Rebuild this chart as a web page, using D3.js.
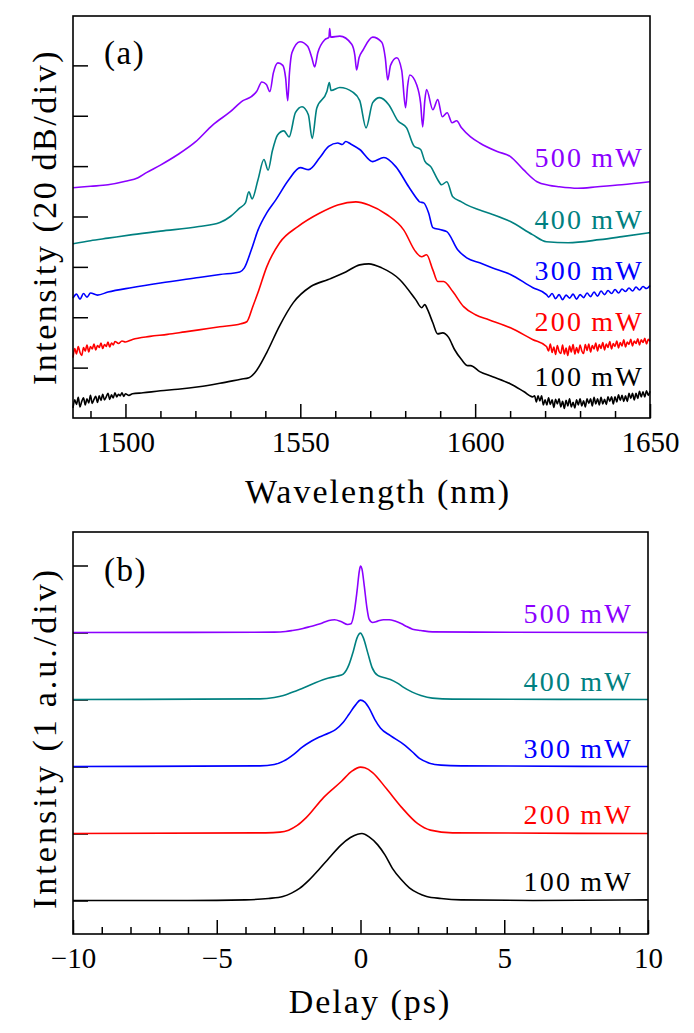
<!DOCTYPE html>
<html><head><meta charset="utf-8">
<script src="https://cdn.jsdelivr.net/npm/d3@7"></script>
<style>
html,body{margin:0;padding:0;background:#fff;}
</style></head>
<body><svg id="c" width="694" height="1033"></svg>
<script>
// ---------- Data: panel (a) spectra, [wavelength nm, level in 20 dB divisions] ----------
const specLabels = ["100 mW","200 mW","300 mW","400 mW","500 mW"];
const specColors = ["#000000","#ff0000","#0000ff","#008080","#8b00ff"];
const wlTicksMajor = [1500,1550,1600,1650];
const wlTicksMinor = [1490,1510,1520,1530,1540,1560,1570,1580,1590,1610,1620,1630,1640];
const divTicks = [1,2,3,4,5,6,7];

const spec100 = [[1485,0.20],[1485.5,0.36],[1486,0.27],[1486.5,0.41],[1487,0.22],[1487.5,0.33],[1488,0.40],[1488.5,0.26],[1489,0.38],[1489.5,0.30],[1490,0.45],[1490.5,0.29],[1491,0.37],[1491.5,0.43],[1492,0.31],[1492.5,0.44],[1493,0.35],[1493.5,0.47],[1494,0.36],[1494.5,0.42],[1495,0.49],[1495.5,0.37],[1496,0.46],[1496.5,0.40],[1497,0.50],[1497.5,0.42],[1498,0.47],[1498.5,0.44],[1499,0.50],[1499.5,0.43],[1500,0.48],[1501,0.45],[1502,0.48],[1505,0.50],[1510,0.54],[1515,0.57],[1521,0.62],[1527,0.69],[1533,0.77],[1535.3,0.80],[1537,0.90],[1540.4,1.30],[1544,1.82],[1548,2.29],[1553,2.61],[1558,2.75],[1563,2.90],[1567,3.04],[1569.6,3.06],[1573.3,2.98],[1578.4,2.75],[1583,2.35],[1584.7,2.19],[1585.6,2.25],[1586.4,2.15],[1587.9,1.89],[1589.3,1.67],[1590.7,1.69],[1592.4,1.60],[1594.1,1.36],[1596.1,1.16],[1597.9,1.04],[1598.7,1.04],[1601.3,0.92],[1605,0.82],[1610,0.68],[1614,0.52],[1616.4,0.42],[1617,0.44],[1617.5,0.32],[1618,0.44],[1618.5,0.34],[1619,0.44],[1619.5,0.26],[1620,0.36],[1620.5,0.26],[1621,0.40],[1621.5,0.27],[1622,0.36],[1622.5,0.21],[1623,0.37],[1623.5,0.28],[1624,0.38],[1624.5,0.22],[1625,0.33],[1625.5,0.19],[1626,0.35],[1626.5,0.24],[1627,0.38],[1627.5,0.22],[1628,0.31],[1628.5,0.20],[1629,0.36],[1629.5,0.26],[1630,0.38],[1630.5,0.24],[1631,0.34],[1631.5,0.22],[1632,0.38],[1632.5,0.29],[1633,0.38],[1633.5,0.24],[1634,0.41],[1634.5,0.28],[1635,0.38],[1635.5,0.26],[1636,0.41],[1636.5,0.28],[1637,0.37],[1637.5,0.27],[1638,0.42],[1638.5,0.33],[1639,0.42],[1639.5,0.28],[1640,0.42],[1640.5,0.32],[1641,0.46],[1641.5,0.35],[1642,0.45],[1642.5,0.33],[1643,0.44],[1643.5,0.33],[1644,0.49],[1644.5,0.39],[1645,0.49],[1645.5,0.36],[1646,0.49],[1646.5,0.39],[1647,0.53],[1647.5,0.42],[1648,0.52],[1648.5,0.42],[1649,0.54],[1649.5,0.45],[1650,0.53]];
const spec200 = [[1485,1.20],[1485.5,1.38],[1486,1.27],[1486.5,1.42],[1487,1.30],[1487.5,1.24],[1488,1.40],[1488.5,1.33],[1489,1.45],[1489.5,1.31],[1490,1.42],[1490.5,1.37],[1491,1.47],[1491.5,1.35],[1492,1.44],[1492.5,1.40],[1493,1.49],[1493.5,1.38],[1494,1.46],[1494.5,1.42],[1495,1.51],[1495.5,1.41],[1496,1.49],[1496.5,1.45],[1497,1.52],[1498,1.48],[1499,1.53],[1500,1.51],[1502,1.56],[1507,1.62],[1512,1.66],[1517,1.71],[1521,1.75],[1527,1.81],[1533,1.87],[1534.7,1.91],[1536.4,2.21],[1537.9,2.49],[1540.4,3.00],[1544.1,3.48],[1549.3,3.80],[1555.6,4.07],[1560.7,4.23],[1565.9,4.29],[1569.6,4.23],[1574.7,4.04],[1579.6,3.73],[1583,3.30],[1584.7,3.20],[1586.1,3.24],[1587.9,2.94],[1589.3,2.71],[1591,2.71],[1593.6,2.51],[1596.7,2.21],[1600.1,2.05],[1603.9,1.95],[1610.1,1.79],[1616.4,1.56],[1620.4,1.42],[1621,1.33],[1621.5,1.47],[1622,1.30],[1622.5,1.41],[1623,1.26],[1623.5,1.44],[1624,1.32],[1624.5,1.28],[1625,1.45],[1625.5,1.27],[1626,1.39],[1626.5,1.24],[1627,1.43],[1627.5,1.31],[1628,1.46],[1628.5,1.27],[1629,1.40],[1629.5,1.29],[1630,1.45],[1630.5,1.33],[1631,1.28],[1631.5,1.46],[1632,1.34],[1632.5,1.47],[1633,1.31],[1633.5,1.44],[1634,1.37],[1634.5,1.49],[1635,1.33],[1635.5,1.46],[1636,1.38],[1636.5,1.50],[1637,1.35],[1637.5,1.47],[1638,1.40],[1638.5,1.52],[1639,1.37],[1639.5,1.48],[1640,1.42],[1640.5,1.53],[1641,1.39],[1641.5,1.50],[1642,1.43],[1642.5,1.55],[1643,1.41],[1643.5,1.51],[1644,1.46],[1644.5,1.56],[1645,1.43],[1645.5,1.53],[1646,1.48],[1646.5,1.57],[1647,1.45],[1647.5,1.55],[1648,1.50],[1648.5,1.58],[1649,1.47],[1649.5,1.56],[1650,1.52]];
const spec300 = [[1485,2.38],[1486,2.46],[1487,2.36],[1488,2.47],[1489,2.40],[1490,2.48],[1492,2.44],[1495,2.50],[1502,2.59],[1510,2.68],[1521,2.79],[1527,2.85],[1532.7,2.90],[1534,2.98],[1536,3.34],[1537.9,3.73],[1540.4,4.07],[1543,4.33],[1546.7,4.73],[1550,4.97],[1552.4,4.93],[1555.6,5.17],[1558.1,5.39],[1560.7,5.46],[1562,5.43],[1563,5.49],[1564.4,5.44],[1567,5.33],[1570.7,5.09],[1573.9,5.17],[1577.3,4.99],[1581,4.59],[1583.6,4.33],[1584.1,4.29],[1585.3,4.27],[1586.7,4.07],[1587.9,3.78],[1589.9,3.74],[1591.9,3.70],[1595,3.34],[1597.6,3.18],[1601.3,3.08],[1605,2.98],[1610.1,2.85],[1616.4,2.59],[1620.4,2.45],[1621,2.40],[1622,2.47],[1623,2.37],[1624,2.45],[1625,2.35],[1626,2.44],[1627,2.38],[1628,2.46],[1629,2.36],[1630,2.45],[1631,2.39],[1632,2.48],[1633,2.41],[1634,2.50],[1635,2.42],[1636,2.52],[1637,2.45],[1638,2.53],[1639,2.47],[1640,2.55],[1641,2.48],[1642,2.56],[1643,2.51],[1644,2.58],[1645,2.52],[1646,2.60],[1647,2.54],[1648,2.61],[1649,2.57],[1650,2.63]];
const spec400 = [[1485,3.46],[1490,3.52],[1495,3.57],[1502,3.64],[1510,3.71],[1521,3.80],[1527,3.88],[1530,4.00],[1532.7,4.17],[1534.3,4.27],[1535.3,4.49],[1536.2,4.35],[1537.9,4.73],[1539.6,5.13],[1540.8,4.92],[1542,5.30],[1543.5,5.62],[1545.3,5.70],[1546.8,5.58],[1548.6,6.06],[1550.5,6.18],[1552.3,6.02],[1553.4,5.55],[1554.7,6.15],[1557.6,6.48],[1558.3,6.66],[1558.8,6.50],[1561.3,6.56],[1565,6.47],[1567,6.30],[1568.8,5.76],[1570.7,6.26],[1572.7,6.36],[1575.3,6.22],[1577.9,5.90],[1580.4,5.76],[1582.5,5.40],[1584.4,5.33],[1585.6,5.10],[1587.3,4.99],[1589.3,4.73],[1590.4,4.63],[1591.9,4.69],[1593.6,4.39],[1596.1,4.29],[1597.6,4.23],[1601.3,4.13],[1605,4.04],[1610.1,3.90],[1616.4,3.64],[1620.4,3.50],[1626.6,3.48],[1635.6,3.54],[1642,3.60],[1650,3.68]];
const spec500 = [[1485,4.57],[1490,4.60],[1495,4.63],[1500,4.70],[1503.6,4.77],[1506,4.87],[1510,5.02],[1515,5.23],[1520,5.48],[1525,5.82],[1530,6.08],[1533.6,6.30],[1536,6.38],[1537.5,6.48],[1539,6.67],[1540.3,6.62],[1541.3,6.48],[1542.3,6.85],[1543.6,7.05],[1545,7.00],[1545.8,6.75],[1546.4,6.30],[1546.9,6.85],[1547.6,7.25],[1549.9,7.47],[1552.1,7.38],[1553.3,7.15],[1554.1,6.97],[1555,7.25],[1557,7.51],[1558.2,7.56],[1558.4,7.73],[1558.7,7.56],[1561.3,7.58],[1564.7,7.42],[1565.6,7.20],[1566.1,6.91],[1566.8,7.15],[1567.9,7.30],[1570.7,7.56],[1573.3,7.46],[1574.3,7.15],[1575,6.71],[1575.8,7.00],[1577.6,7.15],[1579,6.90],[1580.1,6.16],[1580.7,6.60],[1581.3,6.81],[1583.3,6.61],[1584.4,6.25],[1585,5.78],[1585.6,6.30],[1586.1,6.52],[1587.9,6.12],[1589.3,6.32],[1590.6,5.98],[1592,6.06],[1593.4,5.86],[1594.7,5.90],[1596.1,5.76],[1598.7,5.58],[1601.3,5.46],[1606.3,5.29],[1610.1,5.19],[1613.8,4.93],[1617.7,4.69],[1621,4.62],[1624,4.59],[1629.3,4.56],[1635,4.59],[1641.9,4.63],[1650,4.69]];

// ---------- Data: panel (b) autocorrelation traces, [delay ps, normalized intensity] ----------
const acLabels = ["100 mW","200 mW","300 mW","400 mW","500 mW"];
const acOffsets = [0,1,2,3,4];
const delayTicksMajor = [-10,-5,0,5,10];
const delayTicksMinor = [-9,-8,-7,-6,-4,-3,-2,-1,1,2,3,4,6,7,8,9];
const auTicks = [0,1,2,3,4,5];

const ac100 = [[-10,0],[-6,0],[-4,0.01],[-3.2,0.03],[-2.7,0.06],[-2.4,0.11],[-2.12,0.18],[-1.8,0.30],[-1.43,0.47],[-1.1,0.63],[-0.7,0.82],[-0.35,0.94],[-0.1,0.99],[0.05,1.0],[0.3,0.95],[0.6,0.83],[0.85,0.68],[1.11,0.48],[1.4,0.32],[1.7,0.19],[2.0,0.11],[2.3,0.06],[2.8,0.03],[3.5,0.01],[6,0],[10,0.01]];
const ac200 = [[-10,0],[-3.3,0.01],[-2.8,0.02],[-2.5,0.05],[-2.2,0.12],[-1.88,0.24],[-1.28,0.54],[-0.66,0.78],[-0.3,0.93],[0,0.99],[0.15,0.98],[0.42,0.91],[0.9,0.67],[1.43,0.39],[1.98,0.15],[2.43,0.05],[3.2,0.01],[10,0]];
const ac300 = [[-10,0],[-3.5,0.01],[-3.0,0.03],[-2.68,0.08],[-2.3,0.19],[-2.05,0.28],[-1.7,0.38],[-1.43,0.44],[-1.1,0.50],[-0.87,0.55],[-0.6,0.66],[-0.4,0.78],[-0.17,0.92],[0,0.99],[0.15,0.96],[0.3,0.87],[0.5,0.70],[0.7,0.57],[1.04,0.46],[1.5,0.33],[1.8,0.22],[2.05,0.12],[2.4,0.05],[2.8,0.02],[3.5,0.01],[10,0]];
const ac400 = [[-10,0],[-3.5,0.01],[-3.0,0.03],[-2.68,0.06],[-2.3,0.12],[-2.05,0.16],[-1.57,0.25],[-1.11,0.32],[-0.8,0.35],[-0.6,0.38],[-0.4,0.52],[-0.25,0.72],[-0.12,0.92],[0,0.99],[0.1,0.92],[0.25,0.70],[0.4,0.48],[0.6,0.36],[0.8,0.33],[1.04,0.30],[1.3,0.24],[1.5,0.18],[1.8,0.11],[2.1,0.06],[2.5,0.02],[3.2,0.005],[10,0]];
const ac500 = [[-10,0],[-3,0.005],[-2.6,0.015],[-2.37,0.03],[-2.0,0.06],[-1.74,0.09],[-1.4,0.13],[-1.1,0.18],[-0.9,0.19],[-0.66,0.16],[-0.45,0.12],[-0.33,0.13],[-0.22,0.30],[-0.12,0.62],[-0.04,0.92],[0,0.99],[0.05,0.95],[0.13,0.70],[0.22,0.38],[0.3,0.20],[0.42,0.15],[0.6,0.17],[0.8,0.19],[1.0,0.19],[1.2,0.17],[1.43,0.13],[1.6,0.09],[1.81,0.05],[2.1,0.03],[2.5,0.01],[4,0.005],[10,0]];

// ---------- Drawing ----------
const svg = d3.select("#c");
const FONT = "'Liberation Serif','DejaVu Serif',serif";
const TICKFONT = 29, LABFONT = 34, SERFONT = 28;

function txt(g){ return g.append("text").attr("font-family",FONT).attr("fill","#000"); }

function panel(o){
  const g = svg.append("g");
  g.append("g").attr("transform",`translate(0,${o.y.range()[0]})`)
    .call(d3.axisBottom(o.x).tickValues(o.xMinor).tickSize(-7).tickFormat(""))
    .call(a=>a.select(".domain").remove());
  g.append("g").attr("transform",`translate(0,${o.y.range()[0]})`)
    .call(d3.axisBottom(o.x).tickValues(o.xMajor).tickSize(-14).tickPadding(13.5).tickFormat(o.fmt))
    .call(a=>a.select(".domain").remove())
    .call(a=>a.selectAll("text").attr("font-family",FONT).attr("font-size",TICKFONT).attr("fill","#000"));
  g.append("g").attr("transform",`translate(${o.x.range()[0]},0)`)
    .call(d3.axisLeft(o.y).tickValues(o.yTicks).tickSize(-15).tickFormat(""))
    .call(a=>a.select(".domain").remove());
  g.selectAll(".tick line").attr("stroke","#000").attr("stroke-width",1.5);
  const line = d3.line().x(d=>o.x(d[0])).y(d=>o.y(d[1])).curve(d3.curveMonotoneX);
  const cg = g.append("g");
  o.series.forEach((s,i)=>{
    cg.append("path").datum(s.map(d=>[d[0], d[1] + (o.offsets?o.offsets[i]:0)]))
      .attr("d",line).attr("fill","none").attr("stroke",o.colors[i])
      .attr("stroke-width",1.6).attr("stroke-linejoin","round");
  });
  g.append("rect").attr("x",o.x.range()[0]).attr("y",o.y.range()[1])
    .attr("width",o.x.range()[1]-o.x.range()[0]).attr("height",o.y.range()[0]-o.y.range()[1])
    .attr("fill","none").attr("stroke","#000").attr("stroke-width",1.6);
  o.labels.forEach((t,i)=>{
    const p = t.split(" ");
    txt(g).attr("x",o.labX).attr("y",o.labY[i]).attr("text-anchor","end")
      .attr("font-size",SERFONT).attr("letter-spacing","2.3px").attr("fill",o.colors[i])
      .text(p[0]+"\u2009"+p[1]);
  });
  txt(g).attr("x",o.tagX).attr("y",o.tagY).attr("font-size",33).attr("letter-spacing","1.5px").text(o.tag);
  txt(g).attr("x",o.xTitleX).attr("y",o.xTitleY)
    .attr("text-anchor","middle").attr("font-size",LABFONT).attr("letter-spacing","2px").text(o.xTitle);
  txt(g).attr("transform",`translate(56,${o.yTitleY}) rotate(-90)`)
    .attr("text-anchor","middle").attr("font-size",LABFONT).attr("letter-spacing",o.yTitleLS).text(o.yTitle);
}

const xA = d3.scaleLinear().domain([1485,1650]).range([73,650]);
const yA = d3.scaleLinear().domain([0,7.98]).range([418,16]);
panel({x:xA,y:yA,xMajor:wlTicksMajor,xMinor:wlTicksMinor,yTicks:divTicks,fmt:d3.format("d"),
  series:[spec100,spec200,spec300,spec400,spec500],colors:specColors,labels:specLabels,
  labX:644,labY:[386,331,280,229,167],tag:"(a)",tagX:104,tagY:64,
  xTitle:"Wavelength (nm)",xTitleX:378,xTitleY:503,yTitle:"Intensity (20\u2009dB/div)",yTitleY:217,yTitleLS:"2.5px"});

const xB = d3.scaleLinear().domain([-10,10]).range([73,648]);
const yB = d3.scaleLinear().domain([-0.5,5.5]).range([934,532]);
panel({x:xB,y:yB,xMajor:delayTicksMajor,xMinor:delayTicksMinor,yTicks:auTicks,
  fmt:d=>d<0?"\u2212"+Math.abs(d):String(d),
  series:[ac100,ac200,ac300,ac400,ac500],offsets:acOffsets,colors:specColors,labels:acLabels,
  labX:633,labY:[891,824,758,691,623],tag:"(b)",tagX:104,tagY:581,
  xTitle:"Delay (ps)",xTitleX:370,xTitleY:1013,yTitle:"Intensity (1\u2009a.u./div)",yTitleY:738,yTitleLS:"3px"});
</script></body></html>
